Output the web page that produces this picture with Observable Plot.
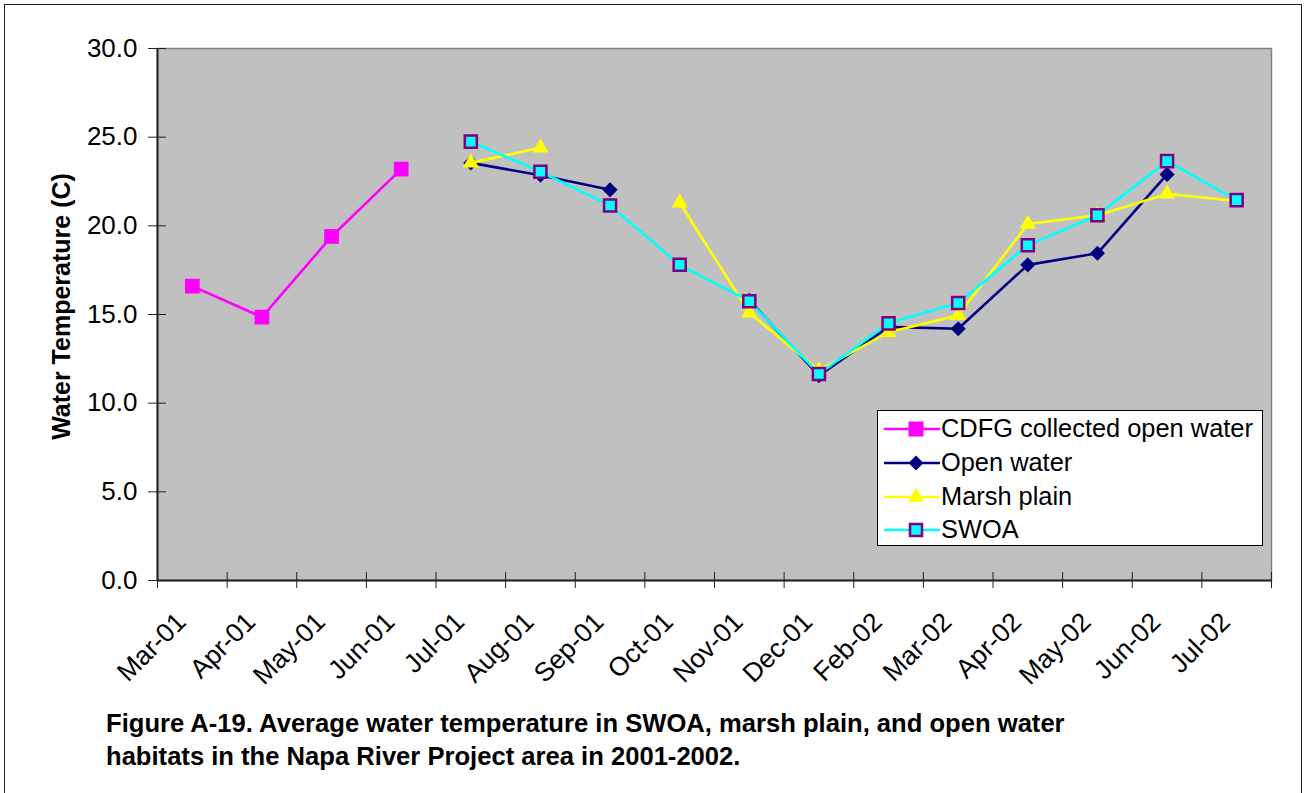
<!DOCTYPE html>
<html>
<head>
<meta charset="utf-8">
<script src="https://cdn.jsdelivr.net/npm/d3@7"></script>
<script src="https://cdn.jsdelivr.net/npm/@observablehq/plot@0.6"></script>
<style>
  html, body { margin: 0; padding: 0; background: #fff; }
  body { width: 1304px; height: 793px; overflow: hidden; position: relative; font-family: "Liberation Sans", Arial, sans-serif; }
  #border { position: absolute; left: 4px; top: 4px; width: 1298px; height: 800px; border: 1.5px solid #222; box-sizing: border-box; }
  #chart { position: absolute; left: 0; top: 0; }
  #legend { position: absolute; left: 877px; top: 410px; width: 386px; height: 136px; background: #fff; border: 1.5px solid #000; box-sizing: border-box; }
  .row { position: absolute; left: 0; height: 34px; width: 100%; }
  .row svg { position: absolute; left: 5px; top: 0; }
  .row span { position: absolute; left: 63px; top: -1px; font-size: 25.4px; line-height: 30px; color: #000; white-space: nowrap; }
  #caption { position: absolute; left: 106px; top: 707px; font-size: 25.6px; line-height: 33px; font-weight: bold; color: #000; white-space: nowrap; }
</style>
</head>
<body>
<div id="border"></div>
<div id="chart"></div>
<div id="legend"></div>
<div id="caption">Figure A-19. Average water temperature in SWOA, marsh plain, and open water<br>habitats in the Napa River Project area in 2001-2002.</div>
<script>
// ---- data ----
const months = ["Mar-01","Apr-01","May-01","Jun-01","Jul-01","Aug-01","Sep-01","Oct-01","Nov-01","Dec-01","Feb-02","Mar-02","Apr-02","May-02","Jun-02","Jul-02"];
const cdfg      = [16.6, 14.85, 19.4, 23.2, null, null, null, null, null, null, null, null, null, null, null, null];
const openWater = [null, null, null, null, 23.55, 22.85, 22.03, null, 15.8, 11.55, 14.3, 14.2, 17.8, 18.45, 22.9, null];
const marsh     = [null, null, null, null, 23.55, 24.4, null, 21.3, 15.1, 11.85, 14.0, 14.95, 20.1, 20.6, 21.8, 21.4];
const swoa      = [null, null, null, null, 24.75, 23.05, 21.15, 17.8, 15.75, 11.65, 14.5, 15.65, 18.9, 20.6, 23.65, 21.45];
const yTicks = [0, 5, 10, 15, 20, 25, 30];
const seriesNames = ["CDFG collected open water", "Open water", "Marsh plain", "SWOA"];
const yTitle = "Water Temperature (C)";

const series = [
  {name: seriesNames[0], values: cdfg,      stroke: "#FF00FF", fill: "#FF00FF", mstroke: "none",    symbol: "square",   r: 8.3, sw: 0},
  {name: seriesNames[1], values: openWater, stroke: "#000080", fill: "#000080", mstroke: "none",    symbol: "diamond2", r: 6.8, sw: 0},
  {name: seriesNames[2], values: marsh,     stroke: "#FFFF00", fill: "#FFFF00", mstroke: "none",    symbol: "triangle", r: 6.0, sw: 0},
  {name: seriesNames[3], values: swoa,      stroke: "#00FFFF", fill: "#00FFFF", mstroke: "#800080", symbol: "square",   r: 6.8, sw: 2.5}
];

const toRows = (vals) => vals.map((v, i) => ({x: i + 0.5, y: v}));
const centers = months.map((m, i) => i + 0.5);
const bounds = d3.range(months.length + 1);

const marks = [
  Plot.frame({fill: "#C0C0C0", stroke: "#808080", strokeWidth: 1.5}),
  Plot.ruleX([0], {stroke: "#222", strokeWidth: 2}),
  Plot.ruleY([0], {stroke: "#222", strokeWidth: 2}),
  Plot.axisY({ticks: yTicks, tickSize: 18, dx: 9, tickFormat: () => "", stroke: "#222", label: null}),
  Plot.axisY({ticks: yTicks, tickSize: 0, tickPadding: 20, tickFormat: d => d.toFixed(1), fill: "#000", fontSize: 26, label: null}),
  Plot.axisX({ticks: bounds, tickSize: 16, dy: -8, tickFormat: () => "", stroke: "#222", label: null}),
  Plot.axisX({ticks: centers, tickSize: 0, tickPadding: 37, dx: -11, tickRotate: -45, tickFormat: d => months[Math.floor(d)], fill: "#000", fontSize: 26.5, label: null}),
  Plot.text([yTitle], {frameAnchor: "left", text: d => d, rotate: -90, textAnchor: "middle", dx: -96, dy: -8, fontWeight: "bold", fontSize: 25, fill: "#000"})
];
for (const s of series) {
  const rows = toRows(s.values);
  marks.push(Plot.line(rows, {x: "x", y: "y", stroke: s.stroke, strokeWidth: 2.6}));
  marks.push(Plot.dot(rows.filter(d => d.y != null), {x: "x", y: "y", symbol: s.symbol, r: s.r, fill: s.fill, stroke: s.mstroke, strokeWidth: s.sw}));
}

const chart = Plot.plot({
  width: 1304,
  height: 705,
  marginLeft: 157,
  marginRight: 33,
  marginTop: 48,
  marginBottom: 125,
  style: {fontFamily: "Liberation Sans, Arial, sans-serif", fontSize: "25px", background: "transparent", color: "#000"},
  x: {type: "linear", domain: [0, months.length], axis: null},
  y: {domain: [0, 30], axis: null},
  marks
});
document.getElementById("chart").appendChild(chart);

// ---- legend ----
const legend = document.getElementById("legend");
const rowTops = [0, 34, 68, 101];
series.forEach((s, i) => {
  const row = document.createElement("div");
  row.className = "row";
  row.style.top = (3 + rowTops[i]) + "px";
  const size = 34;
  let marker = "";
  const cx = 33, cy = 15;
  if (s.symbol === "square" && s.mstroke === "none") {
    marker = `<rect x="${cx-7.5}" y="${cy-7.5}" width="15" height="15" fill="${s.fill}"/>`;
  } else if (s.symbol === "square") {
    marker = `<rect x="${cx-6}" y="${cy-6}" width="12" height="12" fill="${s.fill}" stroke="${s.mstroke}" stroke-width="2.5"/>`;
  } else if (s.symbol === "diamond2") {
    marker = `<path d="M${cx},${cy-7.5}L${cx+7.5},${cy}L${cx},${cy+7.5}L${cx-7.5},${cy}Z" fill="${s.fill}"/>`;
  } else {
    marker = `<path d="M${cx},${cy-9.3}L${cx+8.1},${cy+4.7}L${cx-8.1},${cy+4.7}Z" fill="${s.fill}"/>`;
  }
  row.innerHTML = `<svg width="62" height="${size}"><line x1="1" x2="57" y1="${cy}" y2="${cy}" stroke="${s.stroke}" stroke-width="2.6"/>${marker}</svg><span>${s.name}</span>`;
  legend.appendChild(row);
});
</script>
</body>
</html>
